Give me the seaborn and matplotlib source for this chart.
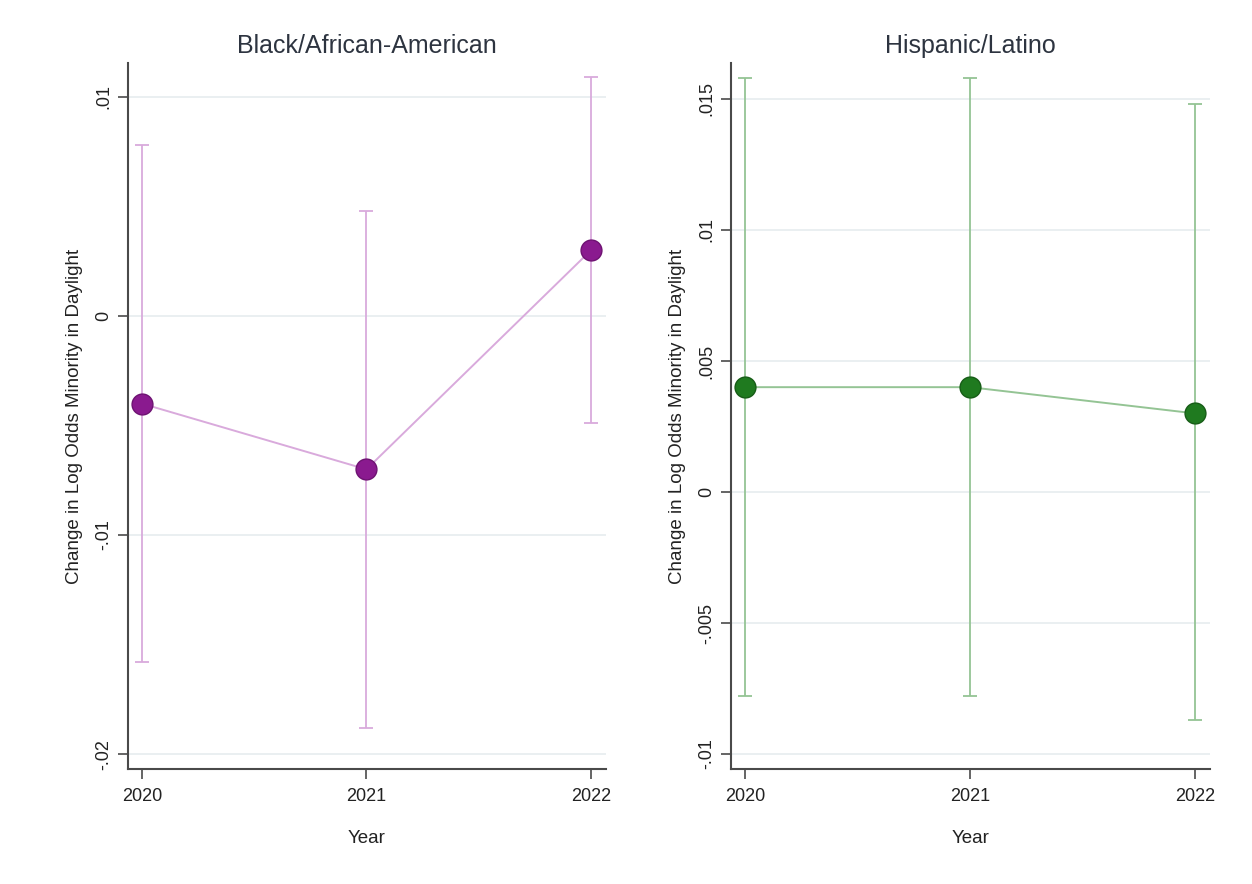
import matplotlib
matplotlib.use("Agg")
import matplotlib.pyplot as plt
import seaborn as sns
import pandas as pd

sns.set_theme(style="white")
plt.rcParams['font.family'] = ['Liberation Sans', 'DejaVu Sans']

years = [2020, 2021, 2022]
year_labels = ["2020", "2021", "2022"]

black_est = [-0.004, -0.007, 0.003]
black_lo = [-0.0158, -0.0188, -0.0049]
black_hi = [0.0078, 0.0048, 0.0109]

hisp_est = [0.004, 0.004, 0.003]
hisp_lo = [-0.0078, -0.0078, -0.0087]
hisp_hi = [0.0158, 0.0158, 0.0148]

black_ticks = [-0.02, -0.01, 0.0, 0.01]
black_tick_labels = ["-.02", "-.01", "0", ".01"]
hisp_ticks = [-0.01, -0.005, 0.0, 0.005, 0.01, 0.015]
hisp_tick_labels = ["-.01", "-.005", "0", ".005", ".01", ".015"]

titles = ["Black/African-American", "Hispanic/Latino"]
ylabel = "Change in Log Odds Minority in Daylight"
xlabel = "Year"

fig = plt.figure(figsize=(12.52, 8.84), dpi=100)
W, H = 1252, 884
ax1 = fig.add_axes([128 / W, 1 - 769 / H, (606 - 128) / W, (769 - 63) / H])
ax2 = fig.add_axes([731 / W, 1 - 769 / H, (1210 - 731) / W, (769 - 63) / H])

panels = [
    (ax1, black_est, black_lo, black_hi, black_ticks, black_tick_labels,
     "#8a1a8f", "#d9aadc", "#6e1272", (-0.02068, 0.01155)),
    (ax2, hisp_est, hisp_lo, hisp_hi, hisp_ticks, hisp_tick_labels,
     "#1f7a1f", "#94c494", "#165c16", (-0.01057, 0.01637)),
]

for i, (ax, est, lo, hi, ticks, tlabels, mcol, lcol, ecol, ylim) in enumerate(panels):
    df = pd.DataFrame({"year": years, "est": est, "lo": lo, "hi": hi})
    yerr = [df["est"] - df["lo"], df["hi"] - df["est"]]
    ax.errorbar(df["year"], df["est"], yerr=yerr, fmt="none", ecolor=lcol,
                elinewidth=1.3, capsize=5, capthick=1.3, zorder=2)
    sns.lineplot(data=df, x="year", y="est", ax=ax, color=lcol, linewidth=1.4,
                 marker="o", markersize=15, markerfacecolor=mcol,
                 markeredgecolor=ecol, markeredgewidth=1.0, zorder=3)
    ax.set_xlim(2019.938, 2022.067)
    ax.set_ylim(*ylim)
    ax.set_xticks(years)
    ax.set_xticklabels(year_labels, fontsize=13, color="#222222")
    ax.set_yticks(ticks)
    ax.set_yticklabels(tlabels, fontsize=13, color="#222222", rotation=90, va="center")
    ax.yaxis.grid(True, color="#e8eef0", linewidth=1.3)
    ax.xaxis.grid(False)
    ax.set_title(titles[i], fontsize=18, color="#2d3440", pad=7)
    ax.set_xlabel(xlabel, fontsize=13.5, color="#222222", labelpad=18)
    ax.set_ylabel(ylabel, fontsize=13.5, color="#222222", labelpad=9)
    for s in ["top", "right"]:
        ax.spines[s].set_visible(False)
    for s in ["left", "bottom"]:
        ax.spines[s].set_color("#4a4a4a")
        ax.spines[s].set_linewidth(1.5)
    ax.tick_params(axis="x", which="major", length=7, width=1.2, color="#4a4a4a",
                   bottom=True, pad=7)
    ax.tick_params(axis="y", which="major", length=7, width=1.2, color="#4a4a4a",
                   left=True, pad=4)

fig.savefig("out.png", dpi=100, facecolor="white")
